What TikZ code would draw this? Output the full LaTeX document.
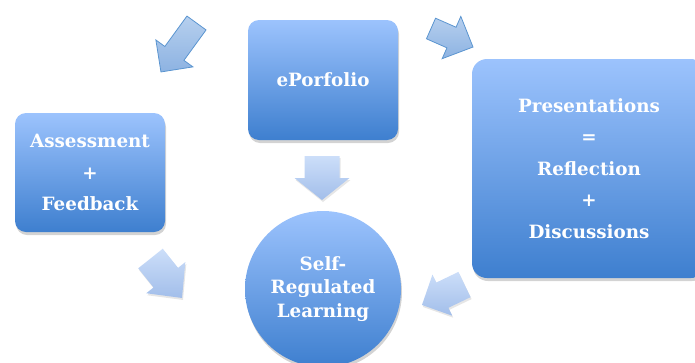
\documentclass[tikz,border=0pt]{standalone}
\usepackage{fontspec}
\setmainfont{DejaVu Serif}
\usetikzlibrary{shadows}

\definecolor{boxtop}{HTML}{9CC3FD}
\definecolor{boxbot}{HTML}{3E7FCF}
\definecolor{arrline}{HTML}{5B95D0}
\definecolor{arrtop}{HTML}{B6CFEE}
\definecolor{arrbot}{HTML}{8DB3E2}
\definecolor{paletop}{HTML}{CCDEF9}
\definecolor{palebot}{HTML}{A2BEEA}

% block arrow: style, tail, angle, length, shaft, head width, head length
\newcommand{\blockarrow}[7]{%
  \path [#1, shift={#2}, rotate=#3]
    (0,-#5/2) -- (#4-#7,-#5/2) -- (#4-#7,-#6/2) -- (#4,0)
    -- (#4-#7,#6/2) -- (#4-#7,#5/2) -- (0,#5/2) -- cycle;}

\begin{document}
\begin{tikzpicture}[
  x=1pt, y=-1pt,
  box/.style={rounded corners=11pt, top color=boxtop, bottom color=boxbot,
    drop shadow={shadow xshift=1pt, shadow yshift=-3pt, opacity=.35},
    text=white, align=center, inner sep=0pt,
    font=\bfseries\fontsize{18.3}{31.5}\selectfont},
  arrow/.style={draw=arrline, line width=0.8pt, top color=arrtop, bottom color=arrbot},
  softarrow/.style={top color=paletop, bottom color=palebot,
    drop shadow={shadow xshift=1pt, shadow yshift=-2pt, opacity=.2}}
]

\useasboundingbox (0,0) rectangle (695,362);
\clip (0,0) rectangle (695,362);

\node [box, minimum width=150pt, minimum height=120pt] (eport) at (323,80) {ePorfolio};
\node [box, minimum width=150pt, minimum height=119pt] (assess) at (90,172.5)
  {Assessment\\+\\Feedback};
\node [box, rounded corners=15pt, minimum width=234pt, minimum height=219pt] (pres)
  at (589,168.5) {Presentations\\=\\Reflection\\+\\Discussions};
\node [box, circle, minimum size=156pt, font=\bfseries\fontsize{18.3}{23.5}\selectfont]
  (srl) at (323,289) {Self-\\Regulated\\Learning};

\blockarrow{arrow}{(196.5,23)}{234}{60.5}{23.6}{45.8}{22.9}
\blockarrow{arrow}{(431,28.5)}{-23.8}{45.9}{22.5}{46.2}{23.5}
\blockarrow{softarrow}{(322,156)}{-90}{44}{35}{55}{22}
\blockarrow{softarrow}{(150.5,258.5)}{-51.4}{50.5}{31.4}{50}{26}
\blockarrow{softarrow}{(464.5,284.5)}{-154.3}{47.2}{28}{45.6}{22.6}

\end{tikzpicture}
\end{document}
